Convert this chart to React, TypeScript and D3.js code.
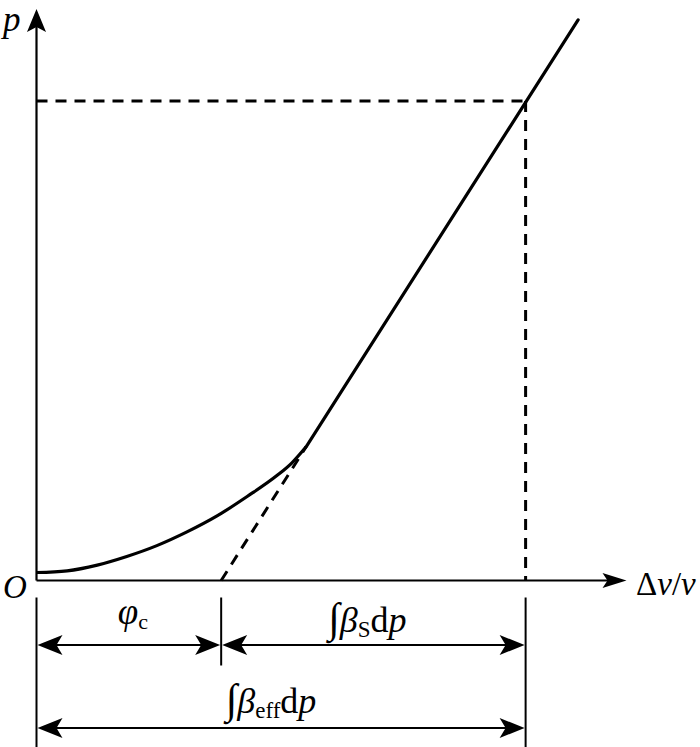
import React from "react";
import * as d3 from "d3";

// Curve (compression), in normalised units
const curveX = [0, 0.52, 1.03, 1.53, 2.04, 2.55, 3.06, 3.57, 4.08, 4.33, 4.57];
const curveP = [0.14, 0.17, 0.27, 0.42, 0.61, 0.85, 1.13, 1.47, 1.84, 2.06, 2.34];
// Straight (linear) segment
const lineX = [4.57, 9.18];
const lineP = [2.34, 9.81];
// Dashed tangent back to the axis
const tangentX = [3.13, 4.57];
const tangentP = [0, 2.34];
// Reference point (dashed guides)
const refX = 8.29;
const refP = 8.39;
// Dimension marks along the axis
const phiC = 3.13;

const W = 700;
const H = 747;
const FONT = "'Liberation Serif', 'Times New Roman', serif";

const x = d3.scaleLinear().domain([0, 10]).range([36.5, 626.5]);
const y = d3.scaleLinear().domain([0, 10]).range([580.5, 9]);

function arrow(tx: number, ty: number, dir: "up" | "right" | "left", len: number, half: number, notch: number) {
  if (dir === "up") {
    return `M${tx},${ty} L${tx + half},${ty + len} L${tx},${ty + len - notch} L${tx - half},${ty + len} Z`;
  }
  if (dir === "right") {
    return `M${tx},${ty} L${tx - len},${ty - half} L${tx - len + notch},${ty} L${tx - len},${ty + half} Z`;
  }
  return `M${tx},${ty} L${tx + len},${ty - half} L${tx + len - notch},${ty} L${tx + len},${ty + half} Z`;
}

export default function App() {
  const line = d3
    .line<[number, number]>()
    .x((d) => x(d[0]))
    .y((d) => y(d[1]));
  const curveLine = d3
    .line<[number, number]>()
    .x((d) => x(d[0]))
    .y((d) => y(d[1]))
    .curve(d3.curveMonotoneX);

  const curvePts = curveX.map((v, i) => [v, curveP[i]] as [number, number]);
  const linePts = lineX.map((v, i) => [v, lineP[i]] as [number, number]);
  const tanPts = tangentX.map((v, i) => [v, tangentP[i]] as [number, number]);

  const x0 = x(0);
  const y0 = y(0);
  const xTop = y(10);
  const xEnd = x(10);
  const xPhi = x(phiC);
  const xRef = x(refX);
  const yRef = y(refP);

  const dimTop = y0 + 17;
  const row1 = y0 + 64.5;
  const row2 = y0 + 147.5;
  const tickBottom = y0 + 85;

  return (
    <svg
      width={W}
      height={H}
      viewBox={`0 0 ${W} ${H}`}
      style={{ position: "absolute", left: 0, top: 0, background: "#fff" }}
    >
      <rect x={0} y={0} width={W} height={H} fill="#fff" />
      {/* axes */}
      <line x1={x0} y1={y0} x2={x0} y2={xTop + 18} stroke="#000" strokeWidth={2.2} />
      <path d={arrow(x0, xTop, "up", 23, 9.5, 5)} fill="#000" />
      <line x1={x0} y1={y0} x2={xEnd - 18} y2={y0} stroke="#000" strokeWidth={2.2} />
      <path d={arrow(xEnd, y0, "right", 24, 7.5, 5)} fill="#000" />

      {/* dashed guides */}
      <line x1={x0} y1={yRef} x2={xRef} y2={yRef} stroke="#000" strokeWidth={3} strokeDasharray="11 8" />
      <line x1={xRef} y1={yRef} x2={xRef} y2={y0} stroke="#000" strokeWidth={3} strokeDasharray="11 8" />
      <path d={line(tanPts) || ""} fill="none" stroke="#000" strokeWidth={3} strokeDasharray="11 8" />

      {/* curve and line */}
      <path d={curveLine(curvePts) || ""} fill="none" stroke="#000" strokeWidth={3.2} strokeLinejoin="round" />
      <path d={line(linePts) || ""} fill="none" stroke="#000" strokeWidth={3.2} strokeLinecap="round" />

      {/* dimension lines */}
      <line x1={x0} y1={dimTop} x2={x0} y2={H} stroke="#000" strokeWidth={2} />
      <line x1={xPhi} y1={dimTop} x2={xPhi} y2={tickBottom} stroke="#000" strokeWidth={2} />
      <line x1={xRef} y1={dimTop} x2={xRef} y2={H} stroke="#000" strokeWidth={2} />

      <line x1={x0 + 10} y1={row1} x2={xPhi - 10} y2={row1} stroke="#000" strokeWidth={2} />
      <path d={arrow(x0 + 1, row1, "left", 25, 10, 6)} fill="#000" />
      <path d={arrow(xPhi - 1, row1, "right", 25, 10, 6)} fill="#000" />
      <line x1={xPhi + 10} y1={row1} x2={xRef - 10} y2={row1} stroke="#000" strokeWidth={2} />
      <path d={arrow(xPhi + 1, row1, "left", 25, 10, 6)} fill="#000" />
      <path d={arrow(xRef - 1, row1, "right", 25, 10, 6)} fill="#000" />

      <line x1={x0 + 10} y1={row2} x2={xRef - 10} y2={row2} stroke="#000" strokeWidth={2} />
      <path d={arrow(x0 + 1, row2, "left", 25, 10, 6)} fill="#000" />
      <path d={arrow(xRef - 1, row2, "right", 25, 10, 6)} fill="#000" />

      {/* labels */}
      <g fontFamily={FONT} fill="#000">
        <text x={3} y={31} fontSize={35} fontStyle="italic">p</text>
        <text x={3} y={598} fontSize={33} fontStyle="italic">O</text>
        <text x={636} y={595} fontSize={33}>
          <tspan>Δ</tspan>
          <tspan fontStyle="italic">v</tspan>
          <tspan>/</tspan>
          <tspan fontStyle="italic">v</tspan>
        </text>
        <text x={(x0 + xPhi) / 2 + 4} y={624} fontSize={37} textAnchor="middle">
          <tspan fontStyle="italic">φ</tspan>
          <tspan fontSize={22} dy={5}>c</tspan>
        </text>
        <text x={(xPhi + xRef) / 2 - 6} y={632} fontSize={36} textAnchor="middle">
          <tspan fontSize={42}>∫</tspan>
          <tspan fontStyle="italic">β</tspan>
          <tspan fontSize={23} dy={5}>S</tspan>
          <tspan dy={-5}>d</tspan>
          <tspan fontStyle="italic">p</tspan>
        </text>
        <text x={(x0 + xRef) / 2 - 10} y={713} fontSize={36} textAnchor="middle">
          <tspan fontSize={42}>∫</tspan>
          <tspan fontStyle="italic">β</tspan>
          <tspan fontSize={23} dy={5}>eff</tspan>
          <tspan dy={-5}>d</tspan>
          <tspan fontStyle="italic">p</tspan>
        </text>
      </g>
    </svg>
  );
}
